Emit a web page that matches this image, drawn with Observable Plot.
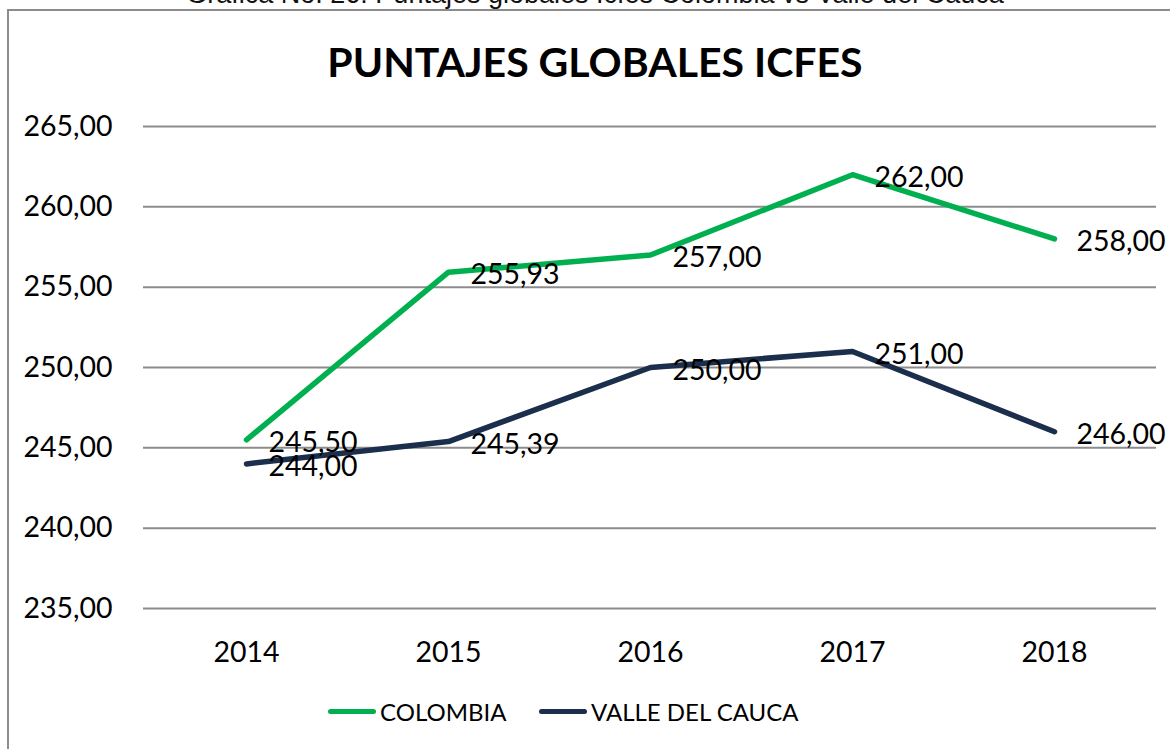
<!DOCTYPE html>
<html>
<head>
<meta charset="utf-8">
<script src="https://cdn.jsdelivr.net/npm/d3@7"></script>
<script src="https://cdn.jsdelivr.net/npm/@observablehq/plot@0.6"></script>
<style>
  html, body { margin: 0; padding: 0; background: #fff; width: 1170px; height: 749px; overflow: hidden; position: relative; }
  #caption { position: absolute; left: 0; width: 1190px; top: -21px; text-align: center; font-family: "Liberation Sans", Arial, sans-serif; font-size: 27px; color: #111; white-space: nowrap; }
  #frame { position: absolute; left: 7px; top: 9px; width: 1300px; height: 900px; border: 2px solid #8c8c8c; box-sizing: border-box; }
  #title { position: absolute; left: 0; width: 1190px; top: 37px; text-align: center; font-family: Lato, sans-serif; font-weight: 700; font-size: 41px; color: #000; white-space: nowrap; }
  #chart { position: absolute; left: 0; top: 100px; }
  #legend { position: absolute; top: 697px; left: 0; width: 1170px; font-family: Lato, sans-serif; font-size: 24px; color: #000; }
  .item { position: absolute; display: flex; align-items: center; white-space: nowrap; }
  .swatch { display: inline-block; width: 48px; height: 5.5px; border-radius: 3px; margin-right: 4px; }
</style>
</head>
<body>
<div id="caption">Grafica No. 26: Puntajes globales Icfes Colombia vs Valle del Cauca</div>
<div id="frame"></div>
<div id="title">PUNTAJES GLOBALES ICFES</div>
<div id="chart"></div>
<div id="legend"></div>
<script>
const years = ["2014", "2015", "2016", "2017", "2018"];
const seriesNames = ["COLOMBIA", "VALLE DEL CAUCA"];
const colombia = [245.50, 255.93, 257.00, 262.00, 258.00];
const valle = [244.00, 245.39, 250.00, 251.00, 246.00];
const yTicks = [235, 240, 245, 250, 255, 260, 265];
const colors = ["#00B050", "#1B2E4B"];

const fmt = v => v.toFixed(2).replace(".", ",");
const data = [];
[colombia, valle].forEach((vals, s) => {
  vals.forEach((v, i) => data.push({ serie: seriesNames[s], year: years[i], value: v }));
});

const FS = 28.5;
const chart = Plot.plot({
  width: 1170,
  height: 580,
  marginLeft: 143,
  marginRight: 14,
  marginTop: 26,
  marginBottom: 72,
  style: { fontFamily: "Lato, sans-serif", fontSize: FS + "px", color: "#000", background: "transparent" },
  x: { type: "point", domain: years, padding: 0.5 },
  y: { domain: [235, 265] },
  color: { domain: seriesNames, range: colors },
  marks: [
    Plot.gridY(yTicks, { stroke: "#8c8c8c", strokeOpacity: 1, strokeWidth: 2 }),
    Plot.axisY(yTicks, { tickSize: 0, tickPadding: 31, tickFormat: fmt, label: null, fontSize: FS }),
    Plot.axisX({ tickSize: 0, tickPadding: 33, label: null, fontSize: FS }),
    Plot.line(data, { x: "year", y: "value", z: "serie", stroke: "serie", strokeWidth: 5.5, strokeLinecap: "round", strokeLinejoin: "round" }),
    Plot.text(data, { x: "year", y: "value", text: d => fmt(d.value), textAnchor: "start", dx: 22, dy: 3, fill: "#000", fontSize: FS })
  ]
});
document.getElementById("chart").appendChild(chart);

const legend = document.getElementById("legend");
const legendX = [328, 539];
seriesNames.forEach((name, i) => {
  const item = document.createElement("div");
  item.className = "item";
  item.style.left = legendX[i] + "px";
  const sw = document.createElement("span");
  sw.className = "swatch";
  sw.style.background = colors[i];
  item.appendChild(sw);
  const t = document.createElement("span");
  t.textContent = name;
  item.appendChild(t);
  legend.appendChild(item);
});
</script>
</body>
</html>
